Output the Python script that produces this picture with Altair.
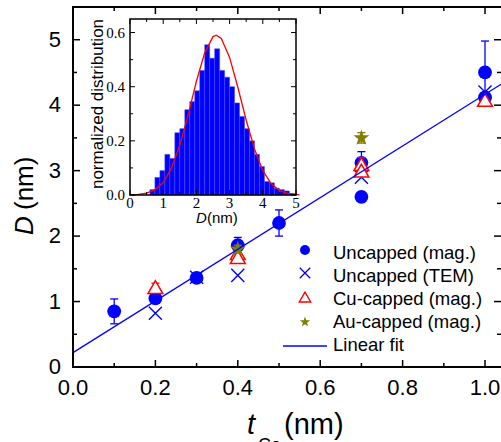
import altair as alt
import pandas as pd

# ---------------- main plot data ----------------
unc_mag_x = [0.1, 0.2, 0.3, 0.4, 0.5, 0.7, 0.7, 1.0, 1.0]
unc_mag_y = [0.85, 1.05, 1.36, 1.86, 2.2, 2.6, 3.12, 4.5, 4.12]
unc_mag_err = [0.19, 0.04, 0.06, 0.12, 0.2, 0.06, 0.17, 0.48, 0.05]

tem_x = [0.2, 0.3, 0.4, 0.7, 1.0]
tem_y = [0.82, 1.37, 1.4, 2.9, 4.2]

cu_x = [0.2, 0.4, 0.4, 0.7, 0.7, 1.0]
cu_y = [1.22, 1.74, 1.68, 3.1, 3.0, 4.08]
cu_err = [0.06, 0.06, 0.06, 0.1, 0.08, 0.0]

au_x = [0.4, 0.7]
au_y = [1.8, 3.5]
au_err = [0.06, 0.08]

fit_x = [0.0, 1.039]
fit_y = [0.22, 4.32]

x_major = [0.0, 0.2, 0.4, 0.6, 0.8, 1.0]
x_minor = [0.1, 0.3, 0.5, 0.7, 0.9]
y_major = [0, 1, 2, 3, 4, 5]
y_minor = [0.5, 1.5, 2.5, 3.5, 4.5]

legend_labels = ["Uncapped (mag.)", "Uncapped (TEM)", "Cu-capped (mag.)",
                 "Au-capped (mag.)", "Linear fit"]

# ---------------- inset data ----------------
bin_edges = [0.60, 0.75, 0.90, 1.05, 1.20, 1.35, 1.50, 1.65, 1.80, 1.95,
             2.10, 2.25, 2.40, 2.55, 2.70, 2.85, 3.00, 3.15, 3.30, 3.45,
             3.60, 3.75, 3.90, 4.05, 4.20, 4.35, 4.50, 4.65, 4.80, 4.95]
bin_heights = [0.02, 0.065, 0.09, 0.15, 0.135, 0.23, 0.245, 0.315, 0.345, 0.385,
               0.46, 0.555, 0.505, 0.54, 0.46, 0.435, 0.40, 0.34, 0.29, 0.245,
               0.20, 0.15, 0.105, 0.05, 0.045, 0.025, 0.02, 0.015, 0.005]

curve_x = [0.0, 0.25, 0.5, 0.75, 1.0, 1.25, 1.5, 1.75, 2.0, 2.25, 2.5, 2.6,
           2.75, 3.0, 3.25, 3.5, 3.75, 4.0, 4.25, 4.5, 4.75, 5.0, 5.1]
curve_y = [0.001, 0.002, 0.007, 0.02, 0.045, 0.1, 0.185, 0.295, 0.42, 0.525,
           0.585, 0.59, 0.578, 0.508, 0.397, 0.276, 0.17, 0.09, 0.042, 0.017,
           0.006, 0.002, 0.001]

ix_major = [0, 1, 2, 3, 4, 5]
ix_minor = [0.5, 1.5, 2.5, 3.5, 4.5]
iy_major = [0.0, 0.2, 0.4, 0.6]
iy_minor = [0.1, 0.3, 0.5]

# ---------------- styling ----------------
BLUE = "#0000ff"
RED = "#ff0000"
OLIVE = "#808000"
SANS = "Liberation Sans"
SERIF = "Liberation Serif"
X_PATH = "M-1,-1L1,1M-1,1L1,-1"
STAR_PATH = ("M0,-1L0.235,-0.324L0.951,-0.309L0.380,0.124L0.588,0.809L0,0.4"
             "L-0.588,0.809L-0.380,0.124L-0.951,-0.309L-0.235,-0.324Z")

W, H = 428, 360
xs = alt.Scale(domain=[0, 1.0388], nice=False, zero=False)
ys = alt.Scale(domain=[0, 5.5], nice=False, zero=False)

one = pd.DataFrame({"a": [0]})

unc_df = pd.DataFrame({"x": unc_mag_x, "y": unc_mag_y, "e": unc_mag_err})
unc_df["lo"] = unc_df.y - unc_df.e
unc_df["hi"] = unc_df.y + unc_df.e
tem_df = pd.DataFrame({"x": tem_x, "y": tem_y})
cu_df = pd.DataFrame({"x": cu_x, "y": cu_y, "e": cu_err})
cu_df["lo"] = cu_df.y - cu_df.e
cu_df["hi"] = cu_df.y + cu_df.e
cu_err_df = cu_df[cu_df.e > 0]
au_df = pd.DataFrame({"x": au_x, "y": au_y, "e": au_err})
au_df["lo"] = au_df.y - au_df.e
au_df["hi"] = au_df.y + au_df.e
fit_df = pd.DataFrame({"x": fit_x, "y": fit_y})


def X(field="x"):
    return alt.X(f"{field}:Q", scale=xs, axis=None, title=None)


def Y(field="y"):
    return alt.Y(f"{field}:Q", scale=ys, axis=None, title=None)


def errbars(df, color):
    bar = alt.Chart(df).mark_rule(color=color, strokeWidth=1.3).encode(
        x=X(), y=Y("lo"), y2="hi")
    cap_hi = alt.Chart(df).mark_tick(color=color, orient="horizontal", size=8,
                                     thickness=1.3, opacity=1).encode(x=X(), y=Y("hi"))
    cap_lo = alt.Chart(df).mark_tick(color=color, orient="horizontal", size=8,
                                     thickness=1.3, opacity=1).encode(x=X(), y=Y("lo"))
    return [bar, cap_hi, cap_lo]


main_layers = []
main_layers += errbars(unc_df, BLUE)
main_layers.append(alt.Chart(unc_df).mark_point(shape="circle", filled=True, color=BLUE,
                                                size=190, opacity=1).encode(x=X(), y=Y()))
main_layers.append(alt.Chart(tem_df).mark_point(shape=X_PATH, filled=False, color=BLUE,
                                                size=170, strokeWidth=1.4, opacity=1)
                   .encode(x=X(), y=Y()))
main_layers += errbars(cu_err_df, RED)
main_layers.append(alt.Chart(cu_df).mark_point(shape="triangle-up", filled=False, fill="white",
                                               fillOpacity=1, stroke=RED, size=220,
                                               strokeWidth=1.5, opacity=1)
                   .encode(x=X(), y=Y()))
main_layers += errbars(au_df, OLIVE)
main_layers.append(alt.Chart(au_df).mark_point(shape=STAR_PATH, filled=True, color=OLIVE,
                                               size=280, opacity=1).encode(x=X(), y=Y()))
main_layers.append(alt.Chart(fit_df).mark_line(color=BLUE, strokeWidth=1.3).encode(
    x=X(), y=Y()))

# frame lines (left, bottom, top)
main_layers.append(alt.Chart(one).mark_rule(color="black", strokeWidth=2).encode(
    x=alt.value(0), y=alt.value(0), y2=alt.value(H)))
main_layers.append(alt.Chart(one).mark_rule(color="black", strokeWidth=2).encode(
    x=alt.value(-1), x2=alt.value(W), y=alt.value(H)))
main_layers.append(alt.Chart(one).mark_rule(color="black", strokeWidth=2).encode(
    x=alt.value(-1), x2=alt.value(W), y=alt.value(0)))

# inward ticks
for vals, ln in [(x_major, 7), (x_minor, 4)]:
    d = pd.DataFrame({"v": vals})
    main_layers.append(alt.Chart(d).mark_rule(color="black", strokeWidth=1.5).encode(
        x=X("v"), y=alt.value(H), y2=alt.value(H - ln)))
    main_layers.append(alt.Chart(d).mark_rule(color="black", strokeWidth=1.5).encode(
        x=X("v"), y=alt.value(0), y2=alt.value(ln)))
for vals, ln in [(y_major, 7), (y_minor, 4)]:
    d = pd.DataFrame({"v": vals})
    main_layers.append(alt.Chart(d).mark_rule(color="black", strokeWidth=1.5).encode(
        y=Y("v"), x=alt.value(0), x2=alt.value(ln)))
    main_layers.append(alt.Chart(d).mark_rule(color="black", strokeWidth=1.5).encode(
        y=Y("v"), x=alt.value(W), x2=alt.value(W - ln)))

# tick labels
main_layers.append(alt.Chart(pd.DataFrame({"v": x_major})).mark_text(
    font=SANS, fontSize=22, baseline="top", color="black").encode(
    x=X("v"), y=alt.value(H + 11), text=alt.Text("v:Q", format=".1f")))
main_layers.append(alt.Chart(pd.DataFrame({"v": y_major})).mark_text(
    font=SANS, fontSize=22, align="right", baseline="middle", color="black").encode(
    y=Y("v"), x=alt.value(-12), text=alt.Text("v:Q", format="d")))

# legend
sym_x = 232
row_y = [243, 266, 290, 315, 339]
text_y = [252, 275, 298, 321, 344]
leg_marks = [
    dict(shape="circle", filled=True, color=BLUE, size=100, opacity=1),
    dict(shape=X_PATH, filled=False, color=BLUE, size=110, strokeWidth=1.3, opacity=1),
    dict(shape="triangle-up", filled=False, color=RED, size=130, strokeWidth=1.4, opacity=1),
    dict(shape=STAR_PATH, filled=True, color=OLIVE, size=120, opacity=1),
]
for i, kw in enumerate(leg_marks):
    main_layers.append(alt.Chart(one).mark_point(**kw).encode(
        x=alt.value(sym_x), y=alt.value(row_y[i])))
main_layers.append(alt.Chart(one).mark_rule(color=BLUE, strokeWidth=1.3).encode(
    x=alt.value(210), x2=alt.value(254), y=alt.value(row_y[4])))
for i, lab in enumerate(legend_labels):
    main_layers.append(alt.Chart(one).mark_text(align="left", baseline="alphabetic",
                                                font=SANS, fontSize=18.5, color="black")
                       .encode(x=alt.value(260), y=alt.value(text_y[i]), text=alt.value(lab)))

# axis titles
main_layers.append(alt.Chart(one).mark_text(align="left", baseline="alphabetic", font=SANS,
                                            fontSize=29, fontStyle="italic", color="black")
                   .encode(x=alt.value(174), y=alt.value(427), text=alt.value("t")))
main_layers.append(alt.Chart(one).mark_text(align="left", baseline="alphabetic", font=SANS,
                                            fontSize=18, color="black")
                   .encode(x=alt.value(185), y=alt.value(444), text=alt.value("Co")))
main_layers.append(alt.Chart(one).mark_text(align="left", baseline="alphabetic", font=SANS,
                                            fontSize=29, color="black")
                   .encode(x=alt.value(211), y=alt.value(427), text=alt.value("(nm)")))
main_layers.append(alt.Chart(one).mark_text(align="left", baseline="alphabetic", font=SANS,
                                            fontSize=26, fontStyle="italic", angle=270,
                                            color="black")
                   .encode(x=alt.value(-40), y=alt.value(228), text=alt.value("D")))
main_layers.append(alt.Chart(one).mark_text(align="left", baseline="alphabetic", font=SANS,
                                            fontSize=26, angle=270, color="black")
                   .encode(x=alt.value(-40), y=alt.value(203), text=alt.value("(nm)")))

main = alt.layer(*main_layers)

# ---------------- inset ----------------
ixs = alt.Scale(domain=[0, 5], range=[57, 223], nice=False, zero=False)
iys = alt.Scale(domain=[0, 0.65], range=[188, 12], nice=False, zero=False)


def IX(field):
    return alt.X(f"{field}:Q", scale=ixs, axis=None, title=None)


def IY(field):
    return alt.Y(f"{field}:Q", scale=iys, axis=None, title=None)


hist_df = pd.DataFrame({"lo": bin_edges[:-1], "hi": bin_edges[1:], "h": bin_heights,
                        "z": [0.0] * len(bin_heights)})
curve_df = pd.DataFrame({"x": curve_x, "y": curve_y})

inset_layers = [
    alt.Chart(one).mark_rect(color="white").encode(
        x=alt.value(57), x2=alt.value(223), y=alt.value(12), y2=alt.value(188)),
    alt.Chart(hist_df).mark_rect(color=BLUE, stroke="#4a4aff", strokeWidth=0.5).encode(
        x=IX("lo"), x2="hi", y=IY("z"), y2="h"),
    alt.Chart(curve_df).mark_line(color=RED, strokeWidth=1.3).encode(x=IX("x"), y=IY("y")),
    alt.Chart(one).mark_rect(fillOpacity=0, stroke="black", strokeWidth=1.5).encode(
        x=alt.value(57), x2=alt.value(223), y=alt.value(12), y2=alt.value(188)),
]
for vals, ln in [(ix_major, 5), (ix_minor, 3)]:
    d = pd.DataFrame({"v": vals})
    inset_layers.append(alt.Chart(d).mark_rule(color="black", strokeWidth=1).encode(
        x=IX("v"), y=alt.value(188), y2=alt.value(188 - ln)))
    inset_layers.append(alt.Chart(d).mark_rule(color="black", strokeWidth=1).encode(
        x=IX("v"), y=alt.value(12), y2=alt.value(12 + ln)))
for vals, ln in [(iy_major, 5), (iy_minor, 3)]:
    d = pd.DataFrame({"v": vals})
    inset_layers.append(alt.Chart(d).mark_rule(color="black", strokeWidth=1).encode(
        y=IY("v"), x=alt.value(57), x2=alt.value(57 + ln)))
    inset_layers.append(alt.Chart(d).mark_rule(color="black", strokeWidth=1).encode(
        y=IY("v"), x=alt.value(223), x2=alt.value(223 - ln)))

ixl = pd.DataFrame({"v": ix_major})
inset_layers.append(alt.Chart(ixl).mark_text(font=SERIF, fontSize=15, baseline="top",
                                             color="black")
                    .encode(x=IX("v"), y=alt.value(189), text=alt.Text("v:Q", format="d")))
iyl = pd.DataFrame({"v": iy_major})
inset_layers.append(alt.Chart(iyl).mark_text(font=SERIF, fontSize=15, align="right",
                                             baseline="middle", color="black")
                    .encode(y=IY("v"), x=alt.value(52), text=alt.Text("v:Q", format=".1f")))
inset_layers.append(alt.Chart(one).mark_text(align="left", baseline="alphabetic", font=SANS,
                                             fontSize=15, fontStyle="italic", color="black")
                    .encode(x=alt.value(123), y=alt.value(216), text=alt.value("D")))
inset_layers.append(alt.Chart(one).mark_text(align="left", baseline="alphabetic", font=SANS,
                                             fontSize=15, color="black")
                    .encode(x=alt.value(134), y=alt.value(216), text=alt.value("(nm)")))
inset_layers.append(alt.Chart(one).mark_text(align="center", baseline="alphabetic", font=SANS,
                                             fontSize=17, angle=270, color="black")
                    .encode(x=alt.value(30), y=alt.value(97),
                            text=alt.value("normalized distribution")))

inset = alt.layer(*inset_layers)

chart = alt.layer(main, inset).resolve_scale(
    x="independent", y="independent"
).properties(
    width=W, height=H,
    padding={"left": 73, "top": 7, "right": 0, "bottom": 75},
    autosize=alt.AutoSizeParams(type="none"),
    background="white",
).configure_view(stroke=None)

chart.save("out.html", embed_options={"renderer": "svg", "actions": False})
